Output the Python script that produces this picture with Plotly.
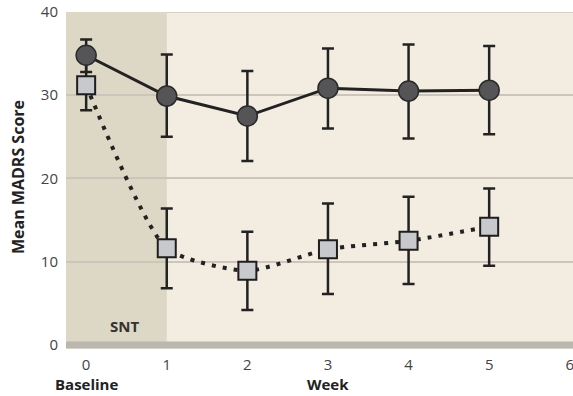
import plotly.graph_objects as go

weeks = [0, 1, 2, 3, 4, 5]
circle_mean = [34.8, 29.9, 27.5, 30.85, 30.5, 30.6]
circle_hi = [36.7, 34.9, 32.9, 35.6, 36.1, 35.9]
circle_lo = [32.8, 25.0, 22.1, 26.0, 24.8, 25.3]
square_mean = [31.2, 11.6, 8.9, 11.5, 12.5, 14.2]
square_hi = [34.2, 16.4, 13.6, 17.0, 17.8, 18.8]
square_lo = [28.2, 6.8, 4.2, 6.1, 7.3, 9.5]
y_ticks = [0, 10, 20, 30, 40]
x_ticks = [0, 1, 2, 3, 4, 5, 6]

FONT = "Open Sans"
W, H = 573, 396
ML, MR, MT, MB = 66, 0, 12, 47
PW, PH = W - ML - MR, H - MT - MB

fig = go.Figure()

fig.add_trace(go.Scatter(
    x=weeks, y=square_mean, mode="lines+markers",
    line=dict(color="#222222", width=4, dash="4px,7px", shape="spline", smoothing=0.6),
    marker=dict(symbol="square", size=18, color="#c8c9cc", line=dict(color="#1e1e1e", width=2)),
    error_y=dict(type="data", symmetric=False,
                 array=[h - m for h, m in zip(square_hi, square_mean)],
                 arrayminus=[m - l for m, l in zip(square_mean, square_lo)],
                 color="#222222", thickness=2.5, width=6),
    showlegend=False, hoverinfo="skip"))

fig.add_trace(go.Scatter(
    x=weeks, y=circle_mean, mode="lines+markers",
    line=dict(color="#222222", width=3),
    marker=dict(symbol="circle", size=20, color="#555558", line=dict(color="#2a2a2a", width=1.5)),
    error_y=dict(type="data", symmetric=False,
                 array=[h - m for h, m in zip(circle_hi, circle_mean)],
                 arrayminus=[m - l for m, l in zip(circle_mean, circle_lo)],
                 color="#222222", thickness=2.5, width=6),
    showlegend=False, hoverinfo="skip"))

shapes = [
    dict(type="rect", xref="x", yref="y", x0=-0.3, x1=1, y0=0, y1=40,
         fillcolor="#ddd7c5", line=dict(width=0), layer="below"),
    dict(type="line", xref="paper", yref="y", x0=0, x1=1, y0=40, y1=40,
         line=dict(color="#cdc8bf", width=1.5), layer="below"),
    dict(type="rect", xref="paper", yref="y", x0=0, x1=1, y0=-0.45, y1=0.4,
         fillcolor="#bbb7b0", line=dict(width=0), layer="above"),
]


def px_x(p):
    return (p - ML) / PW


def px_y(p):
    return 1 - (p - MT) / PH


fig.update_layout(
    width=W, height=H,
    margin=dict(l=ML, r=MR, t=MT, b=MB, autoexpand=False),
    paper_bgcolor="white", plot_bgcolor="#f2ece1",
    font=dict(family=FONT, color="#444444"),
    shapes=shapes,
    xaxis=dict(range=[-0.25, 6.04], tickvals=x_ticks, ticktext=[str(v) for v in x_ticks],
               showgrid=False, zeroline=False, showline=False, automargin=False,
               ticklabeloverflow="allow",
               tickfont=dict(size=15, color="#444444"), ticks="outside", ticklen=2,
               tickcolor="rgba(0,0,0,0)"),
    yaxis=dict(range=[-0.5, 40], tickvals=y_ticks, ticktext=[str(v) for v in y_ticks],
               showgrid=True, gridcolor="#cbc5bb", gridwidth=1.5, zeroline=False,
               showline=False, automargin=False, tickfont=dict(size=15, color="#444444"),
               ticks="outside", ticklen=4, tickcolor="rgba(0,0,0,0)"),
    annotations=[
        dict(text="<b>Mean MADRS Score</b>", x=px_x(18), y=px_y(177), xref="paper", yref="paper",
             xanchor="center", yanchor="middle", showarrow=False, textangle=-90,
             font=dict(size=16, color="#222222", family=FONT)),
        dict(text="<b>SNT</b>", x=0.47, y=2.3, xref="x", yref="y", showarrow=False,
             font=dict(size=15, color="#333333", family=FONT)),
        dict(text="<b>Baseline</b>", x=0, y=px_y(384), xref="x", yref="paper", yanchor="middle",
             showarrow=False, font=dict(size=15, color="#222222", family=FONT)),
        dict(text="<b>Week</b>", x=3, y=px_y(384), xref="x", yref="paper", yanchor="middle",
             showarrow=False, font=dict(size=15, color="#222222", family=FONT)),
    ],
)

fig.write_html("out.html", config={"displayModeBar": False},
               post_script="document.body.style.margin='0';")
